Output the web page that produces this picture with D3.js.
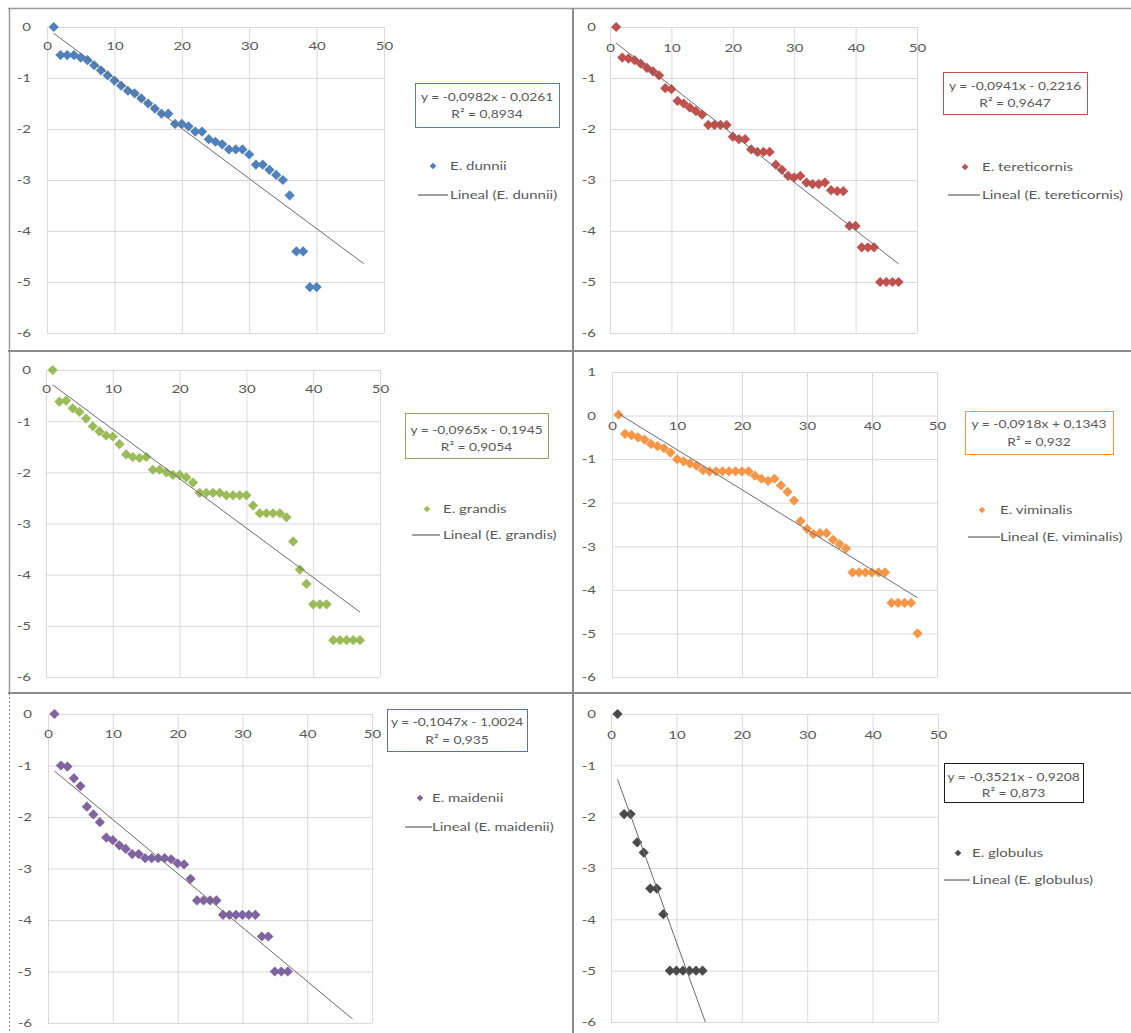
<!DOCTYPE html>
<html>
<head>
<meta charset="utf-8">
<script src="https://cdn.jsdelivr.net/npm/d3@7"></script>
<style>
  html, body { margin: 0; padding: 0; background: #fff; }
  svg { display: block; font-family: Lato, "Open Sans", sans-serif; }
</style>
</head>
<body>
<svg id="chart" width="1131" height="1033"></svg>
<script>
// ---- data ---------------------------------------------------------------
const species = ["E. dunnii", "E. tereticornis", "E. grandis", "E. viminalis", "E. maidenii", "E. globulus"];

// log-survival values by rank (x = 1, 2, 3, ...)
const dunnii = [0, -0.55, -0.55, -0.55, -0.6, -0.65, -0.75, -0.85, -0.95, -1.05,
  -1.15, -1.25, -1.3, -1.4, -1.5, -1.6, -1.7, -1.7, -1.9, -1.9,
  -1.95, -2.05, -2.05, -2.2, -2.25, -2.3, -2.4, -2.4, -2.4, -2.5,
  -2.7, -2.7, -2.8, -2.9, -3.0, -3.3, -4.4, -4.4, -5.1, -5.1];
const tereticornis = [0, -0.6, -0.62, -0.65, -0.72, -0.8, -0.87, -0.95, -1.2, -1.22,
  -1.45, -1.5, -1.58, -1.65, -1.72, -1.92, -1.92, -1.92, -1.92, -2.15,
  -2.2, -2.2, -2.4, -2.45, -2.45, -2.45, -2.7, -2.8, -2.92, -2.95,
  -2.92, -3.05, -3.08, -3.08, -3.05, -3.2, -3.22, -3.22, -3.9, -3.9,
  -4.32, -4.32, -4.32, -5.0, -5.0, -5.0, -5.0];
const grandis = [0, -0.62, -0.6, -0.75, -0.82, -0.95, -1.1, -1.2, -1.28, -1.3,
  -1.45, -1.65, -1.7, -1.72, -1.7, -1.95, -1.95, -2.0, -2.05, -2.05,
  -2.1, -2.2, -2.4, -2.4, -2.4, -2.4, -2.45, -2.45, -2.45, -2.45,
  -2.65, -2.8, -2.8, -2.8, -2.8, -2.88, -3.35, -3.9, -4.18, -4.58,
  -4.58, -4.58, -5.28, -5.28, -5.28, -5.28, -5.28];
const viminalis = [0.02, -0.42, -0.45, -0.5, -0.55, -0.65, -0.7, -0.75, -0.85, -1.0,
  -1.05, -1.1, -1.15, -1.25, -1.28, -1.28, -1.28, -1.28, -1.28, -1.28,
  -1.28, -1.38, -1.45, -1.5, -1.45, -1.6, -1.75, -1.95, -2.42, -2.6,
  -2.72, -2.7, -2.7, -2.85, -2.95, -3.05, -3.6, -3.6, -3.6, -3.6,
  -3.6, -3.6, -4.3, -4.3, -4.3, -4.3, -5.0];
const maidenii = [0, -1.0, -1.02, -1.25, -1.4, -1.8, -1.95, -2.1, -2.4, -2.45,
  -2.55, -2.62, -2.72, -2.72, -2.8, -2.8, -2.8, -2.8, -2.82, -2.9,
  -2.92, -3.2, -3.62, -3.62, -3.62, -3.62, -3.9, -3.9, -3.9, -3.9,
  -3.9, -3.9, -4.32, -4.32, -5.0, -5.0, -5.0];
const globulus = [0, -1.95, -1.95, -2.5, -2.7, -3.4, -3.4, -3.9, -5.0, -5.0,
  -5.0, -5.0, -5.0, -5.0];

const seriesValues = [dunnii, tereticornis, grandis, viminalis, maidenii, globulus];

// linear trend fits ("Lineal") for each species
const slopes     = [-0.0982, -0.0941, -0.0965, -0.0918, -0.1047, -0.3521];
const intercepts = [-0.0261, -0.2216, -0.1945,  0.1343, -1.0024, -0.9208];
const rSquared   = [0.8934, 0.9647, 0.9054, 0.932, 0.935, 0.873];
const trendTo    = [47, 47, 47, 47, 47, 15];

// axis ticks
const xTicks = [0, 10, 20, 30, 40, 50];
const yTicksStd = [0, -1, -2, -3, -4, -5, -6];
const yTicksViminalis = [1, 0, -1, -2, -3, -4, -5, -6];
const yTickSets = [yTicksStd, yTicksStd, yTicksStd, yTicksViminalis, yTicksStd, yTicksStd];

// ---- layout & style -----------------------------------------------------
const colors = ["#4F81BD", "#C0504D", "#9BBB59", "#F79646", "#8064A2", "#4A4A4A"];
const boxColors = ["#4F81BD", "#C0504D", "#8FA55A", "#F79646", "#5B6FB5", "#1a1a1a"];

const panels = [
  { x0: 47,  x1: 384, yTop: 27,  yBot: 333,  labelX: 31,  tickY: 45,
    box: [415, 83, 144, 44],  eq: [97, 114],  mk: [433, 166], tx: 450, ln: [418, 448, 195] },
  { x0: 610, x1: 917, yTop: 27,  yBot: 333,  labelX: 596, tickY: 47,
    box: [943, 72, 144, 42],  eq: [86, 103],  mk: [965, 167], tx: 982, ln: [948, 980, 195] },
  { x0: 46,  x1: 380, yTop: 370, yBot: 677,  labelX: 31,  tickY: 388,
    box: [405, 413, 143, 45], eq: [430, 447], mk: [427, 509], tx: 443, ln: [412, 440, 535] },
  { x0: 612, x1: 937, yTop: 372, yBot: 677,  labelX: 596, tickY: 425,
    box: [965, 411, 148, 43], eq: [424, 442], mk: [982, 510], tx: 1000, ln: [968, 1000, 537] },
  { x0: 48,  x1: 372, yTop: 714, yBot: 1023, labelX: 32,  tickY: 733,
    box: [387, 709, 140, 42], eq: [722, 740], mk: [420, 798], tx: 432, ln: [405, 432, 827] },
  { x0: 611, x1: 938, yTop: 714, yBot: 1022, labelX: 596, tickY: 734,
    box: [944, 763, 139, 39], eq: [777, 793], mk: [958, 853], tx: 972, ln: [944, 970, 880] }
];

const textColor = "#595959";
const gridColor = "#d9d9d9";
const fontSize = 12;
const stretch = 1.25;           // wide set text, as in the worksheet
const eqStretch = 1.15;         // trend equations are set a little tighter
const fontFamily = "Lato, 'Open Sans', sans-serif";

const svg = d3.select("#chart");
const comma = v => String(v).replace(".", ",");
const diamond = s => d3.symbol(d3.symbolSquare, s)();

// place a horizontally stretched text label
function label(parent, x, y, str, anchor, sx) {
  return parent.append("text")
    .attr("transform", `translate(${x},${y}) scale(${sx || stretch},1)`)
    .attr("dy", "0.35em")
    .attr("text-anchor", anchor || "start")
    .attr("font-size", fontSize)
    .attr("font-family", fontFamily)
    .attr("fill", textColor)
    .text(str);
}

// ---- panels -------------------------------------------------------------
panels.forEach((p, i) => {
  const values = seriesValues[i];
  const yTicks = yTickSets[i];
  const g = svg.append("g").attr("class", "panel");

  const x = d3.scaleLinear().domain([0, 50]).range([p.x0, p.x1]);
  const y = d3.scaleLinear().domain([d3.min(yTicks), d3.max(yTicks)]).range([p.yBot, p.yTop]);

  // gridlines
  g.append("g")
    .attr("transform", `translate(${p.x0},0)`)
    .call(d3.axisLeft(y).tickValues(yTicks).tickSize(-(p.x1 - p.x0)).tickFormat(""))
    .call(a => a.select(".domain").remove())
    .call(a => a.selectAll("line").attr("stroke", gridColor));
  g.append("g")
    .attr("transform", `translate(0,${p.yTop})`)
    .call(d3.axisBottom(x).tickValues(xTicks).tickSize(p.yBot - p.yTop).tickFormat(""))
    .call(a => a.select(".domain").remove())
    .call(a => a.selectAll("line").attr("stroke", gridColor));

  // y tick labels
  g.append("g")
    .attr("transform", `translate(${p.labelX},0)`)
    .call(d3.axisLeft(y).tickValues(yTicks).tickSize(0).tickPadding(0).tickFormat(d => String(d)))
    .call(a => a.select(".domain").remove())
    .call(a => a.selectAll("text").attr("fill", textColor).attr("font-size", fontSize)
      .attr("font-family", fontFamily).attr("transform", `scale(${stretch},1)`));

  // x tick labels (the horizontal axis crosses at 0)
  g.append("g")
    .attr("transform", `translate(0,${y(0)})`)
    .call(d3.axisBottom(x).tickValues(xTicks).tickSize(0).tickPadding(p.tickY - y(0) - 4).tickFormat(d => String(d)))
    .call(a => a.select(".domain").remove())
    .call(a => a.selectAll("text").attr("fill", textColor).attr("font-size", fontSize)
      .attr("font-family", fontFamily).attr("transform", `scale(${stretch},1)`));

  // clip to plot area
  const clipId = "clip" + i;
  g.append("clipPath").attr("id", clipId).append("rect")
    .attr("x", p.x0).attr("y", p.yTop).attr("width", p.x1 - p.x0).attr("height", p.yBot - p.yTop);

  // markers
  g.append("g").selectAll("path")
    .data(values)
    .join("path")
    .attr("d", diamond(52))
    .attr("transform", (d, k) => `translate(${x(k + 1)},${y(d)}) rotate(45)`)
    .attr("fill", colors[i]);

  // linear trend line
  const trend = d3.line().x(d => x(d)).y(d => y(slopes[i] * d + intercepts[i]));
  g.append("path")
    .datum([1, trendTo[i]])
    .attr("d", trend)
    .attr("clip-path", `url(#${clipId})`)
    .attr("fill", "none")
    .attr("stroke", "#6a6a6a")
    .attr("stroke-width", 1);

  // equation box
  const [bx, by, bw, bh] = p.box;
  g.append("rect").attr("x", bx + 0.5).attr("y", by + 0.5).attr("width", bw).attr("height", bh)
    .attr("fill", "#fff").attr("stroke", boxColors[i]).attr("stroke-width", 1);
  const cx = bx + bw / 2;
  const eqText = `y = ${comma(slopes[i])}x ${intercepts[i] < 0 ? "-" : "+"} ${comma(Math.abs(intercepts[i]))}`;
  label(g, cx, p.eq[0], eqText, "middle", eqStretch);
  label(g, cx, p.eq[1], `R² = ${comma(rSquared[i])}`, "middle", eqStretch);

  // legend
  g.append("path").attr("d", diamond(22))
    .attr("transform", `translate(${p.mk[0]},${p.mk[1]}) rotate(45)`)
    .attr("fill", colors[i]);
  label(g, p.tx, p.mk[1], species[i]);
  g.append("line").attr("x1", p.ln[0]).attr("x2", p.ln[1]).attr("y1", p.ln[2]).attr("y2", p.ln[2])
    .attr("stroke", "#404040").attr("stroke-width", 1);
  label(g, p.tx, p.ln[2], `Lineal (${species[i]})`);
});

// ---- panel frames -------------------------------------------------------
const frame = svg.append("g").attr("fill", "none");
frame.append("line").attr("x1", 8).attr("x2", 1131).attr("y1", 8.5).attr("y2", 8.5)
  .attr("stroke", "#9a9a9a").attr("stroke-width", 1.5);
frame.append("line").attr("x1", 9.5).attr("x2", 9.5).attr("y1", 8).attr("y2", 693)
  .attr("stroke", "#9a9a9a").attr("stroke-width", 1.5);
frame.append("line").attr("x1", 9.5).attr("x2", 9.5).attr("y1", 693).attr("y2", 1033)
  .attr("stroke", "#8a8a8a").attr("stroke-width", 1).attr("stroke-dasharray", "2,2");
frame.append("line").attr("x1", 573).attr("x2", 573).attr("y1", 8).attr("y2", 1033)
  .attr("stroke", "#8c8c8c").attr("stroke-width", 2);
[351, 693].forEach(yy => {
  frame.append("line").attr("x1", 8).attr("x2", 1131).attr("y1", yy).attr("y2", yy)
    .attr("stroke", "#8c8c8c").attr("stroke-width", 2);
});
</script>
</body>
</html>
